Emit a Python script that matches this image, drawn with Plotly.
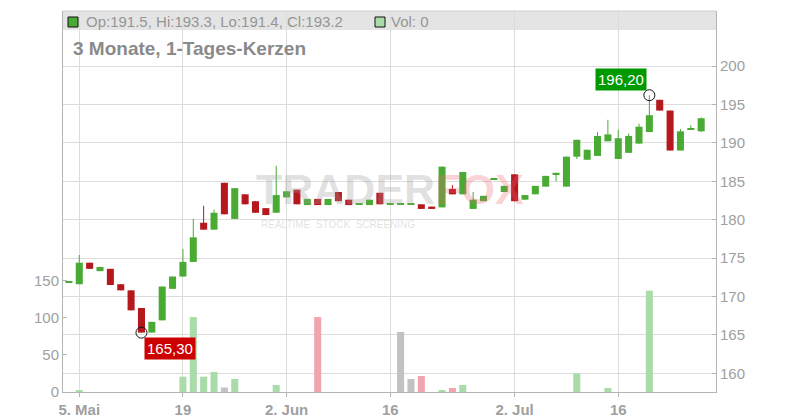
import plotly.graph_objects as go

dates = ["2025-05-02","2025-05-05","2025-05-06","2025-05-07","2025-05-08","2025-05-09",
         "2025-05-12","2025-05-13","2025-05-14","2025-05-15","2025-05-16",
         "2025-05-19","2025-05-20","2025-05-21","2025-05-22","2025-05-23",
         "2025-05-26","2025-05-27","2025-05-28","2025-05-29","2025-05-30",
         "2025-06-02","2025-06-03","2025-06-04","2025-06-05","2025-06-06",
         "2025-06-09","2025-06-10","2025-06-11","2025-06-12","2025-06-13",
         "2025-06-16","2025-06-17","2025-06-18","2025-06-19","2025-06-20",
         "2025-06-23","2025-06-24","2025-06-25","2025-06-26","2025-06-27",
         "2025-06-30","2025-07-01","2025-07-02","2025-07-03","2025-07-04",
         "2025-07-07","2025-07-08","2025-07-09","2025-07-10","2025-07-11",
         "2025-07-14","2025-07-15","2025-07-16","2025-07-17","2025-07-18",
         "2025-07-21","2025-07-22","2025-07-23","2025-07-24","2025-07-25",
         "2025-07-28"]

opens = [171.85,171.6,174.4,173.3,173.6,171.6,170.8,168.5,165.3,166.9,
         171.0,172.6,174.5,179.6,178.7,184.8,180.1,183.3,182.4,181.5,
         180.9,182.9,183.9,181.9,182.7,181.9,183.6,182.6,182.0,181.9,
         183.5,182.0,182.0,182.0,182.0,181.7,181.6,184.0,183.3,181.4,
         182.4,185.2,183.6,185.9,182.6,183.3,184.3,185.9,184.3,188.2,
         187.8,188.3,190.2,187.9,188.7,189.9,191.4,195.6,194.2,189.0,
         191.7,191.5]
highs = [171.85,175.4,174.4,173.85,173.6,171.6,170.8,168.5,166.7,171.3,
         172.6,176.2,180.1,181.8,181.3,184.8,184.1,183.3,182.4,181.5,
         187.0,183.7,183.9,182.7,182.7,182.7,183.6,182.6,182.0,182.6,
         183.5,182.0,182.0,182.0,182.0,181.7,186.9,184.5,186.2,183.6,
         183.1,185.2,184.4,185.9,183.2,184.4,185.7,186.1,188.2,190.4,
         189.1,191.4,193.0,191.7,191.2,192.5,196.2,195.6,194.2,191.8,
         192.3,193.3]
lows = [171.85,171.6,173.6,173.3,171.5,170.8,168.2,165.3,165.3,166.9,
        171.0,172.6,174.5,178.7,178.7,180.7,180.1,182.0,180.9,180.6,
        180.9,182.9,182.0,181.9,181.9,181.9,182.4,181.9,182.0,181.9,
        182.0,182.0,182.0,182.0,181.4,181.4,181.6,183.3,183.3,181.4,
        182.4,185.2,183.6,182.4,182.6,183.3,184.3,185.0,184.3,187.9,
        187.8,188.3,190.2,187.9,188.7,189.9,191.4,194.2,189.0,189.0,
        191.7,191.4]
closes = [171.85,174.4,173.6,173.85,171.5,170.8,168.2,165.3,166.7,171.3,
          172.6,174.5,177.7,178.7,180.9,180.7,184.1,182.0,180.9,180.6,
          183.2,183.7,182.0,182.7,181.9,182.7,182.4,181.9,182.0,182.6,
          182.0,182.0,182.0,182.0,181.4,181.4,186.9,183.3,186.2,182.6,
          183.1,185.2,184.4,182.4,183.2,184.4,185.7,186.1,188.2,190.4,
          189.1,190.9,191.1,190.6,190.9,192.1,193.6,194.2,189.0,191.5,
          191.7,193.2]
volumes = [0,1.5,0,0,0,0,0,0,0,0,
           0,20.7,101,20.7,27,6,17.5,0,0,0,
           9.5,0,0,0,101,0,0,0,0,0,
           0,0,81,17.5,21.6,0,1.5,5.4,9.5,0,
           0,0,0,0,0,0,0,0,0,25,
           0,0,5.4,0,0,0,136.5,0,0,0,
           0,0]
vol_kind = list("uuuuuuuuuu" "uuuuunuuuu" "uuuuduuuuu" "uunnduuduu"
                "uuuuuuuuuu" "uuuuuuuuuu" "uu")

tick_dates = ["2025-05-05","2025-05-19","2025-06-02","2025-06-16","2025-07-02","2025-07-16"]
tick_labels = ["5. Mai","19","2. Jun","16","2. Jul","16"]

GREEN = "#4aab34"
RED = "#b5181d"
VCOL = {"u": "#aadcaa", "d": "#f0a5ae", "n": "#c2c2c2"}
FONT = "Liberation Sans, Arial, sans-serif"

n = len(dates)
xs = list(range(n))
tickvals = [dates.index(d) for d in tick_dates]

# plot area geometry (px)
L, R, T, B = 63, 716, 11, 392
W, H = R - L, B - T
def xp(px): return (px - L) / W
def yp(py): return (B - py) / H

XR = [-0.57, n + 0.43]
Y2R = [157.57, 207.16]
YR = [0, 513.5]

fig = go.Figure()

# volume bars (left axis)
fig.add_trace(go.Bar(x=xs, y=volumes, width=0.68,
                     marker=dict(color=[VCOL[k] for k in vol_kind], line=dict(width=0)),
                     yaxis="y", hoverinfo="skip"))

# wicks
for col, up in ((GREEN, True), (RED, False)):
    wx, wy = [], []
    for i in xs:
        if (closes[i] >= opens[i]) == up:
            wx += [i, i, None]
            wy += [lows[i], highs[i], None]
    fig.add_trace(go.Scatter(x=wx, y=wy, mode="lines", line=dict(color=col, width=1),
                             yaxis="y2", hoverinfo="skip"))

# bodies
base = [min(o, c) for o, c in zip(opens, closes)]
hgt = [max(abs(c - o), 0.16) for o, c in zip(opens, closes)]
bcol = [GREEN if c >= o else RED for o, c in zip(opens, closes)]
fig.add_trace(go.Bar(x=xs, y=hgt, base=base, width=0.68,
                     marker=dict(color=bcol, line=dict(width=0)),
                     yaxis="y2", hoverinfo="skip"))

# min / max markers
imin = lows.index(min(lows))
imax = highs.index(max(highs))
fig.add_trace(go.Scatter(x=[imin, imax], y=[lows[imin], highs[imax]], mode="markers",
                         marker=dict(symbol="circle-open", size=11, color="#111",
                                     line=dict(width=1)),
                         yaxis="y2", hoverinfo="skip"))

def fmt(v):
    return f"{v:.2f}".replace(".", ",")

annotations = [
    dict(x=imin, y=lows[imin], xref="x", yref="y2", text=fmt(lows[imin]),
         xanchor="left", yanchor="top", xshift=3, yshift=-4, showarrow=False,
         bgcolor="#cc0000", borderpad=2, font=dict(family=FONT, size=15, color="white")),
    dict(x=imax, y=highs[imax], xref="x", yref="y2", text=fmt(highs[imax]),
         xanchor="right", yanchor="bottom", xshift=-2, yshift=4, showarrow=False,
         bgcolor="#009900", borderpad=2, font=dict(family=FONT, size=15, color="white")),
    # header legend
    dict(x=xp(84), y=yp(21.5), xref="paper", yref="paper",
         text=f"Op:{opens[-1]}, Hi:{highs[-1]}, Lo:{lows[-1]}, Cl:{closes[-1]}",
         xanchor="left", yanchor="middle", showarrow=False,
         font=dict(family=FONT, size=15, color="#969696")),
    dict(x=xp(389), y=yp(21.5), xref="paper", yref="paper",
         text=f"Vol: {volumes[-1]:g}", xanchor="left", yanchor="middle", showarrow=False,
         font=dict(family=FONT, size=15, color="#969696")),
    dict(x=xp(71), y=yp(48), xref="paper", yref="paper",
         text="<b>3 Monate, 1-Tages-Kerzen</b>", xanchor="left", yanchor="middle",
         showarrow=False, font=dict(family=FONT, size=19, color="#8a8a8a")),
    # watermark
    dict(x=xp(390), y=yp(189), xref="paper", yref="paper",
         text="<b><span style='color:rgba(160,160,160,0.32)'>TRADER</span>"
              "<span style='color:rgba(240,100,115,0.3)'>FOX</span></b>",
         showarrow=False, font=dict(family=FONT, size=43)),
    dict(x=xp(338), y=yp(224), xref="paper", yref="paper",
         text="REALTIME  STOCK  SCREENING", showarrow=False,
         font=dict(family=FONT, size=10, color="rgba(160,160,160,0.32)")),
]

shapes = [
    dict(type="rect", xref="x", yref="y2", x0=XR[0], x1=XR[1],
         y0=200 + (66 - 30) / 7.683, y1=Y2R[1], fillcolor="#e4e4e4",
         line=dict(width=0), layer="below"),
    dict(type="line", xref="paper", yref="paper", x0=0, x1=1, y0=1, y1=1,
         line=dict(color="#cfcfcf", width=1)),
    dict(type="rect", xref="paper", yref="paper", x0=xp(68), x1=xp(78),
         y0=yp(27), y1=yp(17), fillcolor=GREEN, line=dict(color="#111", width=1)),
    dict(type="rect", xref="paper", yref="paper", x0=xp(375), x1=xp(385),
         y0=yp(27), y1=yp(17), fillcolor=VCOL["u"], line=dict(color="#111", width=1)),
]

AX = "#b4b4b4"
fig.update_layout(
    width=800, height=420,
    margin=dict(l=L, r=800 - R, t=T, b=420 - B, autoexpand=False),
    paper_bgcolor="white", plot_bgcolor="white",
    showlegend=False, barmode="overlay", hovermode=False,
    font=dict(family=FONT, color="#999"),
    xaxis=dict(range=XR, tickvals=tickvals, ticktext=tick_labels, automargin=False,
               showgrid=True, gridcolor="#dcdcdc", gridwidth=1, zeroline=False,
               showline=True, linecolor=AX, linewidth=1,
               ticks="outside", ticklen=4, tickcolor=AX,
               tickfont=dict(family=FONT, size=15, color="#a0a0a0", weight="bold")),
    yaxis=dict(range=YR, side="left", tickvals=[0, 50, 100, 150], automargin=False,
               showgrid=False, zeroline=False, showline=True, linecolor=AX, linewidth=1,
               ticks="inside", ticklen=4, tickcolor=AX,
               tickfont=dict(family=FONT, size=15, color="#a0a0a0")),
    yaxis2=dict(range=Y2R, side="right", overlaying="y", automargin=False,
                tickvals=[160, 165, 170, 175, 180, 185, 190, 195, 200],
                showgrid=True, gridcolor="#dcdcdc", gridwidth=1, zeroline=False,
                showline=True, linecolor=AX, linewidth=1,
                ticks="inside", ticklen=4, tickcolor=AX,
                tickfont=dict(family=FONT, size=15, color="#a0a0a0")),
    annotations=annotations, shapes=shapes,
)

fig.write_html("out.html", config={"displayModeBar": False},
               post_script="document.body.style.margin='0px';document.body.style.padding='0px';")
